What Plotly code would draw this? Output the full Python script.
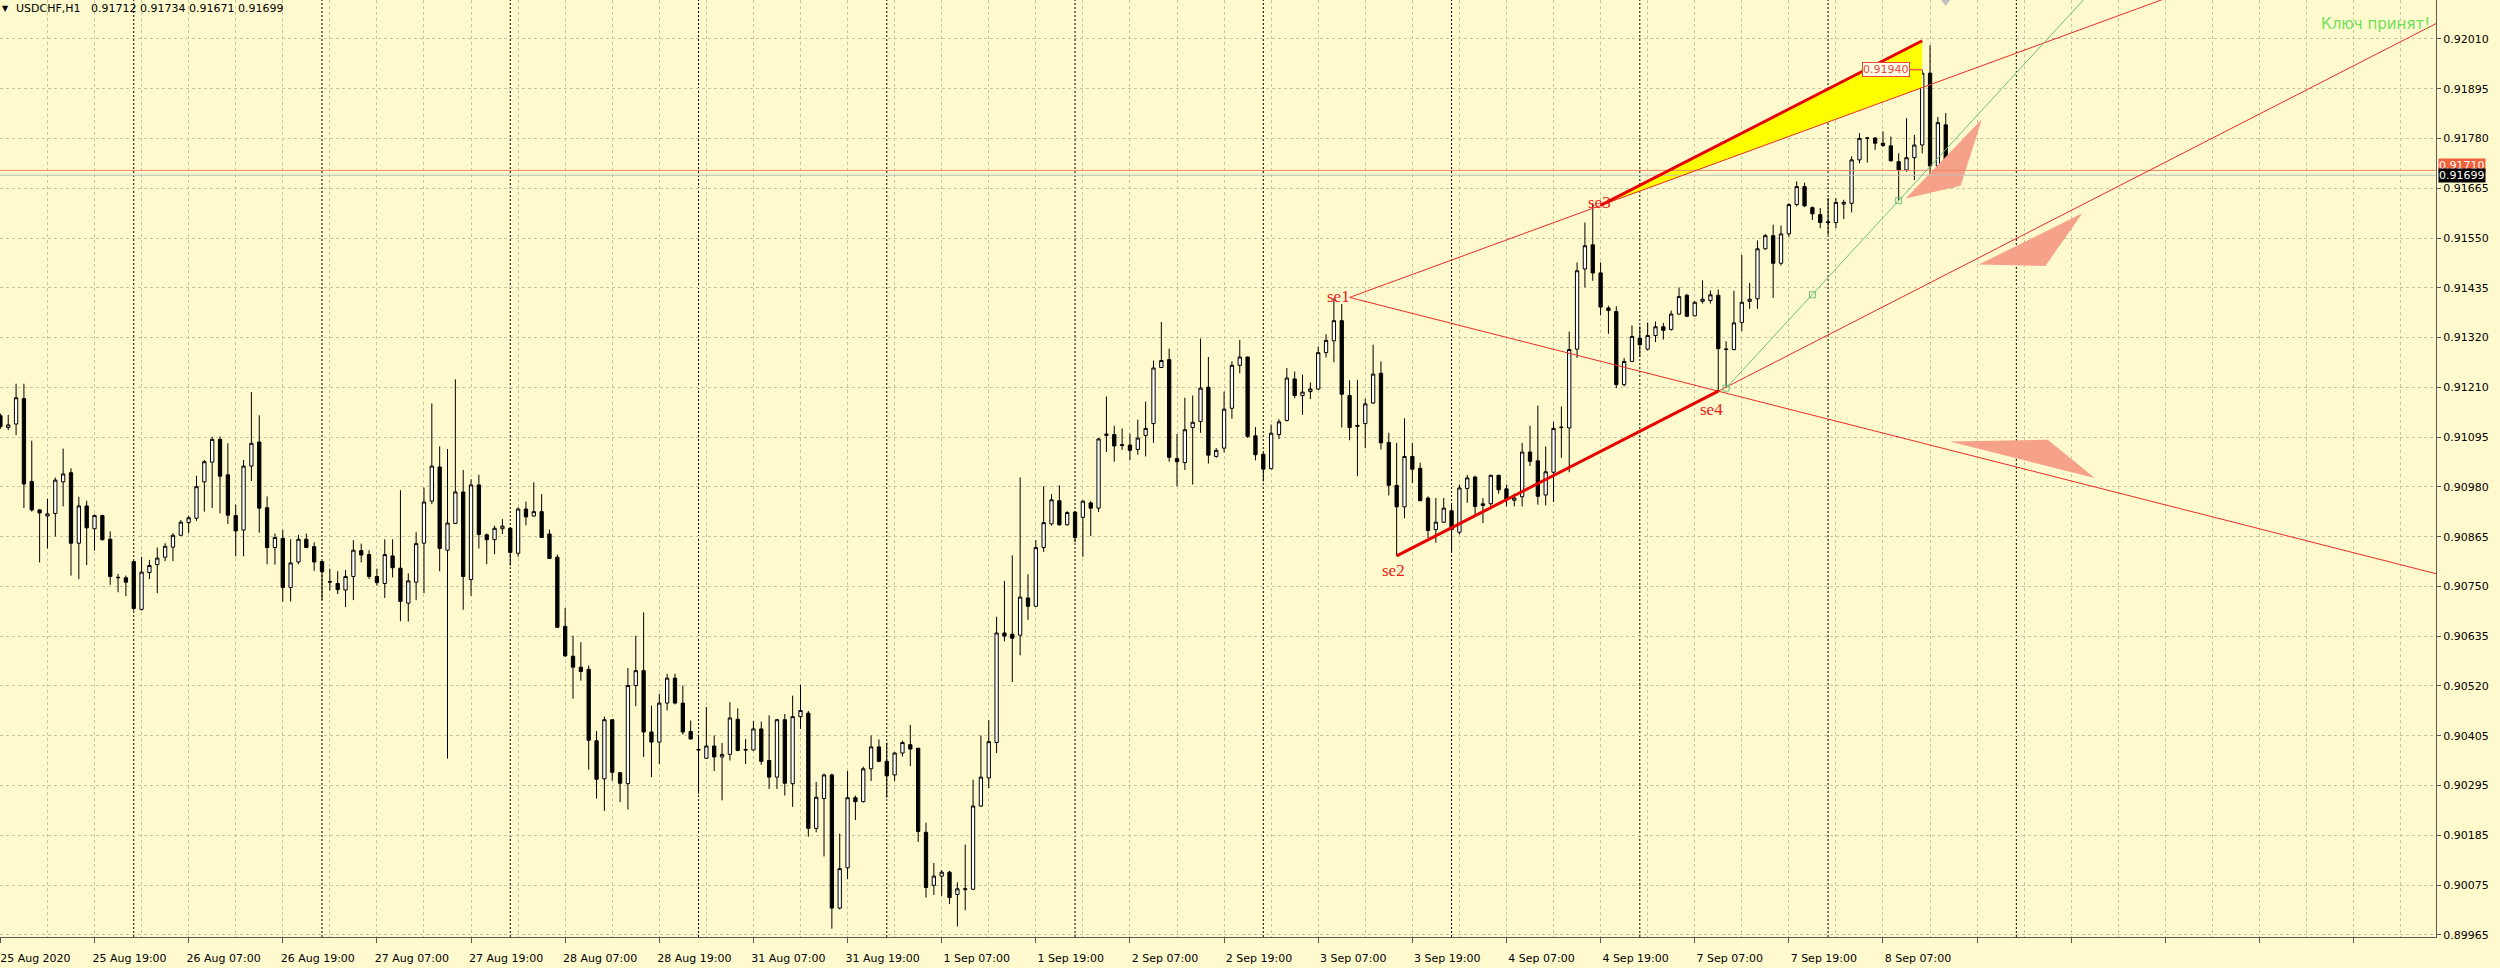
import plotly.graph_objects as go

# ---------------- data (USDCHF H1, bar index 0 = 25 Aug 2020 07:00) ----------------
opens = [
    0.91150, 0.91123, 0.91131, 0.91189, 0.91000, 0.90935, 0.90921, 0.90927, 0.90999, 0.91020,
    0.90859, 0.90944, 0.90892, 0.90922, 0.90868, 0.90780, 0.90780, 0.90817, 0.90708, 0.90792,
    0.90810, 0.90827, 0.90850, 0.90877, 0.90906, 0.90916, 0.90999, 0.91044, 0.91096, 0.91015,
    0.90922, 0.90889, 0.91035, 0.91090, 0.90940, 0.90849, 0.90870, 0.90758, 0.90816, 0.90868,
    0.90851, 0.90817, 0.90770, 0.90767, 0.90752, 0.90783, 0.90842, 0.90833, 0.90783, 0.90767,
    0.90830, 0.90802, 0.90722, 0.90770, 0.90859, 0.90955, 0.91033, 0.90843, 0.90904, 0.90976,
    0.90776, 0.90992, 0.90878, 0.90867, 0.90892, 0.90893, 0.90836, 0.90937, 0.90921, 0.90931,
    0.90880, 0.90827, 0.90669, 0.90601, 0.90576, 0.90571, 0.90408, 0.90321, 0.90456, 0.90335,
    0.90310, 0.90534, 0.90568, 0.90428, 0.90405, 0.90494, 0.90551, 0.90494, 0.90429, 0.90388,
    0.90368, 0.90396, 0.90371, 0.90377, 0.90457, 0.90388, 0.90387, 0.90435, 0.90363, 0.90325,
    0.90456, 0.90310, 0.90463, 0.90471, 0.90208, 0.90276, 0.90330, 0.90026, 0.90118, 0.90278,
    0.90269, 0.90344, 0.90394, 0.90361, 0.90330, 0.90380, 0.90399, 0.90391, 0.90199, 0.90078,
    0.90099, 0.90108, 0.90057, 0.90068, 0.90069, 0.90259, 0.90323, 0.90404, 0.90654, 0.90651,
    0.90649, 0.90734, 0.90715, 0.90849, 0.90903, 0.90956, 0.90901, 0.90930, 0.90918, 0.90951,
    0.90939, 0.91105, 0.91107, 0.91084, 0.91083, 0.91073, 0.91105, 0.91132, 0.91260, 0.91278,
    0.91052, 0.91043, 0.91123, 0.91137, 0.91215, 0.91057, 0.91076, 0.91167, 0.91265, 0.91284,
    0.91104, 0.91062, 0.91029, 0.91107, 0.91139, 0.91234, 0.91196, 0.91205, 0.91211, 0.91294,
    0.91321, 0.91367, 0.91196, 0.91128, 0.91132, 0.91179, 0.91247, 0.91089, 0.90991, 0.90942,
    0.91057, 0.91030, 0.90962, 0.90890, 0.90907, 0.90933, 0.90884, 0.90984, 0.91010, 0.90945,
    0.90949, 0.91014, 0.90983, 0.90957, 0.90965, 0.91067, 0.91047, 0.90969, 0.91021, 0.91124,
    0.91122, 0.91302, 0.91485, 0.91540, 0.91476, 0.91396, 0.91388, 0.91221, 0.91274, 0.91327,
    0.91302, 0.91333, 0.91353, 0.91347, 0.91382, 0.91425, 0.91378, 0.91411, 0.91413, 0.91425,
    0.91301, 0.91301, 0.91363, 0.91411, 0.91417, 0.91531, 0.91561, 0.91498, 0.91565, 0.91632,
    0.91673, 0.91625, 0.91609, 0.91593, 0.91591, 0.91633, 0.91635, 0.91734, 0.91783, 0.91784,
    0.91772, 0.91766, 0.91730, 0.91711, 0.91739, 0.91768, 0.91932, 0.91720, 0.91814, 0.91712,
]
highs = [
    0.91155, 0.91152, 0.91223, 0.91223, 0.91093, 0.90937, 0.90960, 0.91009, 0.91075, 0.91030,
    0.90965, 0.90956, 0.90925, 0.90924, 0.90886, 0.90789, 0.90785, 0.90817, 0.90828, 0.90821,
    0.90849, 0.90859, 0.90882, 0.90912, 0.90922, 0.91013, 0.91049, 0.91102, 0.91103, 0.91087,
    0.90947, 0.91049, 0.91204, 0.91151, 0.90966, 0.90881, 0.90889, 0.90868, 0.90878, 0.90881,
    0.90861, 0.90817, 0.90801, 0.90795, 0.90798, 0.90866, 0.90858, 0.90843, 0.90801, 0.90868,
    0.90868, 0.90980, 0.90790, 0.90884, 0.90986, 0.91178, 0.91080, 0.91074, 0.91233, 0.91026,
    0.91005, 0.91015, 0.90881, 0.90899, 0.90914, 0.90895, 0.90941, 0.90954, 0.90998, 0.90971,
    0.90890, 0.90833, 0.90711, 0.90648, 0.90633, 0.90580, 0.90430, 0.90463, 0.90457, 0.90336,
    0.90574, 0.90648, 0.90701, 0.90488, 0.90515, 0.90561, 0.90561, 0.90534, 0.90454, 0.90422,
    0.90485, 0.90420, 0.90403, 0.90496, 0.90482, 0.90412, 0.90453, 0.90452, 0.90466, 0.90458,
    0.90469, 0.90511, 0.90536, 0.90476, 0.90314, 0.90333, 0.90333, 0.90196, 0.90339, 0.90283,
    0.90349, 0.90420, 0.90411, 0.90404, 0.90382, 0.90408, 0.90444, 0.90391, 0.90221, 0.90129,
    0.90113, 0.90111, 0.90085, 0.90171, 0.90319, 0.90420, 0.90455, 0.90691, 0.90773, 0.90831,
    0.91009, 0.90788, 0.90866, 0.90989, 0.90971, 0.90991, 0.90932, 0.90932, 0.90957, 0.90955,
    0.91099, 0.91194, 0.91127, 0.91121, 0.91109, 0.91141, 0.91182, 0.91276, 0.91364, 0.91303,
    0.91108, 0.91191, 0.91196, 0.91326, 0.91284, 0.91076, 0.91205, 0.91274, 0.91323, 0.91285,
    0.91124, 0.91065, 0.91130, 0.91142, 0.91259, 0.91251, 0.91244, 0.91226, 0.91308, 0.91336,
    0.91418, 0.91405, 0.91231, 0.91232, 0.91189, 0.91312, 0.91274, 0.91111, 0.91088, 0.91144,
    0.91088, 0.91043, 0.90966, 0.90962, 0.90962, 0.90951, 0.90993, 0.91015, 0.91013, 0.90962,
    0.91015, 0.91015, 0.90993, 0.90972, 0.91088, 0.91127, 0.91173, 0.91080, 0.91136, 0.91171,
    0.91342, 0.91500, 0.91591, 0.91635, 0.91500, 0.91401, 0.91400, 0.91282, 0.91356, 0.91354,
    0.91363, 0.91365, 0.91362, 0.91390, 0.91443, 0.91428, 0.91411, 0.91459, 0.91436, 0.91438,
    0.91320, 0.91435, 0.91517, 0.91453, 0.91550, 0.91565, 0.91586, 0.91584, 0.91635, 0.91685,
    0.91682, 0.91628, 0.91624, 0.91647, 0.91647, 0.91643, 0.91742, 0.91795, 0.91786, 0.91786,
    0.91799, 0.91787, 0.91749, 0.91829, 0.91791, 0.91940, 0.91996, 0.91832, 0.91841, 0.91734,
]
lows = [
    0.91120, 0.91117, 0.91106, 0.90939, 0.90931, 0.90815, 0.90847, 0.90874, 0.90943, 0.90785,
    0.90777, 0.90809, 0.90842, 0.90865, 0.90764, 0.90747, 0.90738, 0.90705, 0.90705, 0.90777,
    0.90745, 0.90818, 0.90818, 0.90876, 0.90882, 0.90910, 0.90931, 0.90939, 0.90927, 0.90903,
    0.90829, 0.90829, 0.91001, 0.90883, 0.90811, 0.90810, 0.90726, 0.90726, 0.90811, 0.90848,
    0.90796, 0.90729, 0.90751, 0.90743, 0.90713, 0.90729, 0.90815, 0.90777, 0.90762, 0.90734,
    0.90781, 0.90681, 0.90680, 0.90729, 0.90745, 0.90948, 0.90795, 0.90367, 0.90903, 0.90707,
    0.90739, 0.90847, 0.90811, 0.90834, 0.90880, 0.90808, 0.90828, 0.90900, 0.90920, 0.90871,
    0.90823, 0.90665, 0.90599, 0.90504, 0.90545, 0.90342, 0.90276, 0.90248, 0.90317, 0.90268,
    0.90251, 0.90487, 0.90371, 0.90325, 0.90355, 0.90477, 0.90491, 0.90422, 0.90411, 0.90287,
    0.90367, 0.90339, 0.90272, 0.90363, 0.90384, 0.90355, 0.90386, 0.90353, 0.90298, 0.90298,
    0.90283, 0.90257, 0.90435, 0.90189, 0.90199, 0.90144, 0.89979, 0.90023, 0.90092, 0.90227,
    0.90267, 0.90316, 0.90359, 0.90278, 0.90316, 0.90372, 0.90350, 0.90177, 0.90050, 0.90056,
    0.90054, 0.90035, 0.89984, 0.90021, 0.90067, 0.90257, 0.90300, 0.90380, 0.90635, 0.90542,
    0.90603, 0.90684, 0.90714, 0.90839, 0.90899, 0.90899, 0.90899, 0.90861, 0.90828, 0.90875,
    0.90930, 0.91067, 0.91045, 0.91072, 0.91048, 0.91061, 0.91057, 0.91088, 0.91259, 0.91045,
    0.90989, 0.91026, 0.90993, 0.91111, 0.91041, 0.91054, 0.91066, 0.91143, 0.91247, 0.91099,
    0.91048, 0.91000, 0.91028, 0.91097, 0.91137, 0.91190, 0.91152, 0.91188, 0.91209, 0.91283,
    0.91272, 0.91123, 0.91094, 0.91012, 0.91076, 0.91177, 0.91073, 0.90968, 0.90830, 0.90916,
    0.90996, 0.90955, 0.90871, 0.90860, 0.90905, 0.90841, 0.90879, 0.90951, 0.90922, 0.90905,
    0.90936, 0.90972, 0.90943, 0.90943, 0.90943, 0.91035, 0.90947, 0.90945, 0.90953, 0.91054,
    0.91021, 0.91282, 0.91443, 0.91458, 0.91379, 0.91337, 0.91213, 0.91217, 0.91273, 0.91284,
    0.91299, 0.91318, 0.91324, 0.91344, 0.91381, 0.91375, 0.91377, 0.91406, 0.91406, 0.91206,
    0.91213, 0.91299, 0.91343, 0.91394, 0.91394, 0.91529, 0.91419, 0.91493, 0.91558, 0.91628,
    0.91626, 0.91597, 0.91578, 0.91563, 0.91578, 0.91599, 0.91614, 0.91726, 0.91728, 0.91757,
    0.91764, 0.91730, 0.91641, 0.91707, 0.91688, 0.91749, 0.91696, 0.91673, 0.91667, 0.91671,
]
closes = [
    0.91125, 0.91129, 0.91191, 0.90994, 0.90935, 0.90928, 0.90926, 0.91003, 0.91017, 0.90859,
    0.90944, 0.90894, 0.90922, 0.90867, 0.90783, 0.90781, 0.90770, 0.90710, 0.90793, 0.90808,
    0.90825, 0.90852, 0.90877, 0.90907, 0.90917, 0.90988, 0.91045, 0.91096, 0.91012, 0.90923,
    0.90887, 0.91035, 0.91087, 0.90939, 0.90849, 0.90872, 0.90758, 0.90814, 0.90868, 0.90849,
    0.90816, 0.90794, 0.90771, 0.90753, 0.90783, 0.90843, 0.90832, 0.90783, 0.90769, 0.90833,
    0.90803, 0.90726, 0.90773, 0.90858, 0.90953, 0.91035, 0.90847, 0.90905, 0.90976, 0.90783,
    0.90992, 0.90879, 0.90867, 0.90893, 0.90898, 0.90838, 0.90937, 0.90919, 0.90931, 0.90872,
    0.90824, 0.90667, 0.90602, 0.90576, 0.90566, 0.90409, 0.90320, 0.90456, 0.90336, 0.90311,
    0.90534, 0.90568, 0.90428, 0.90405, 0.90494, 0.90551, 0.90494, 0.90428, 0.90412, 0.90387,
    0.90396, 0.90371, 0.90377, 0.90460, 0.90386, 0.90387, 0.90435, 0.90361, 0.90325, 0.90456,
    0.90311, 0.90463, 0.90477, 0.90208, 0.90279, 0.90330, 0.90026, 0.90116, 0.90278, 0.90269,
    0.90344, 0.90394, 0.90361, 0.90328, 0.90380, 0.90404, 0.90389, 0.90201, 0.90073, 0.90099,
    0.90108, 0.90050, 0.90070, 0.90070, 0.90259, 0.90325, 0.90406, 0.90654, 0.90647, 0.90642,
    0.90736, 0.90715, 0.90849, 0.90906, 0.90958, 0.90901, 0.90929, 0.90872, 0.90955, 0.90939,
    0.91097, 0.91108, 0.91081, 0.91082, 0.91071, 0.91099, 0.91121, 0.91259, 0.91276, 0.91055,
    0.91045, 0.91118, 0.91135, 0.91213, 0.91060, 0.91071, 0.91165, 0.91265, 0.91284, 0.91103,
    0.91061, 0.91028, 0.91110, 0.91136, 0.91236, 0.91196, 0.91204, 0.91211, 0.91294, 0.91322,
    0.91367, 0.91199, 0.91123, 0.91126, 0.91177, 0.91245, 0.91088, 0.90991, 0.90942, 0.91057,
    0.91028, 0.90956, 0.90888, 0.90907, 0.90939, 0.90890, 0.90985, 0.91008, 0.90943, 0.90949,
    0.91014, 0.90981, 0.90960, 0.90962, 0.91067, 0.91046, 0.90966, 0.91022, 0.91121, 0.91123,
    0.91301, 0.91481, 0.91538, 0.91476, 0.91398, 0.91390, 0.91221, 0.91274, 0.91331, 0.91312,
    0.91333, 0.91353, 0.91345, 0.91382, 0.91422, 0.91377, 0.91409, 0.91416, 0.91426, 0.91303,
    0.91302, 0.91362, 0.91409, 0.91416, 0.91531, 0.91561, 0.91498, 0.91565, 0.91632, 0.91673,
    0.91629, 0.91611, 0.91591, 0.91591, 0.91637, 0.91637, 0.91734, 0.91783, 0.91784, 0.91772,
    0.91767, 0.91732, 0.91711, 0.91739, 0.91768, 0.91932, 0.91720, 0.91819, 0.91712, 0.91699,
]
bars = list(range(len(opens)))

x_label_bars = list(range(0, 241, 12))
x_labels = ["25 Aug 2020", "25 Aug 19:00", "26 Aug 07:00", "26 Aug 19:00", "27 Aug 07:00",
            "27 Aug 19:00", "28 Aug 07:00", "28 Aug 19:00", "31 Aug 07:00", "31 Aug 19:00",
            "1 Sep 07:00", "1 Sep 19:00", "2 Sep 07:00", "2 Sep 19:00", "3 Sep 07:00",
            "3 Sep 19:00", "4 Sep 07:00", "4 Sep 19:00", "7 Sep 07:00", "7 Sep 19:00",
            "8 Sep 07:00"]
future_grid_bars = list(range(252, 310, 12))

y_labels = ["0.92010", "0.91895", "0.91780", "0.91665", "0.91550", "0.91435", "0.91320",
            "0.91210", "0.91095", "0.90980", "0.90865", "0.90750", "0.90635", "0.90520",
            "0.90405", "0.90295", "0.90185", "0.90075", "0.89965"]

separator_bars = list(range(17, 258, 24))   # day starts (00:00)

# analysis objects (bar index, price)
se1 = (172, 0.91420)
se2 = (178, 0.90830)
se3 = (204, 0.91630)
se4 = (219, 0.91206)
se_text = {"se1": (170.6, 0.91422), "se2": (177.6, 0.90796),
           "se3": (203.9, 0.91636), "se4": (218.2, 0.91164)}
wedge_end_bar = 245
green_bars = [220, 231, 242]
green_prices = [0.91213, 0.91426, 0.91641]
level_price = 0.91940
level_box_bar = 240.4
ask_price = 0.91710
bid_price = 0.91699
tri1_x, tri1_y = [242.9, 252.6, 249.9], [0.91646, 0.91827, 0.91675]
tri2_x, tri2_y = [252.2, 265.4, 260.7], [0.91495, 0.91612, 0.91492]
tri3_x, tri3_y = [248.5, 261.0, 267.0], [0.91091, 0.91095, 0.91008]
gray_mark = (248.0, 0.92097)

X_MIN, X_MAX = -0.05, 310.5
Y_MIN, Y_MAX = 0.89960, 0.92099
FAR = 330

BG = "#FFFACD"
GRID = "#C9C3A4"
RED = "#EE2A2A"
SALMON = "#F6A189"
FONT = "DejaVu Sans"


def on_line(p, q, x):
    return p[1] + (q[1] - p[1]) * (x - p[0]) / (q[0] - p[0])


fig = go.Figure()

# filled triangles (behind candles)
for tx, ty in [(tri1_x, tri1_y), (tri2_x, tri2_y), (tri3_x, tri3_y)]:
    fig.add_trace(go.Scatter(x=tx + [tx[0]], y=ty + [ty[0]], mode="lines", fill="toself",
                             fillcolor=SALMON, line=dict(width=0, color=SALMON)))

# yellow wedge between channel line and se1-se3 line
slope_c = (se4[1] - se2[1]) / (se4[0] - se2[0])
chan_end = se3[1] + slope_c * (wedge_end_bar - se3[0])
lineA_end = on_line(se1, se3, wedge_end_bar)
fig.add_trace(go.Scatter(x=[se3[0], wedge_end_bar, wedge_end_bar, se3[0]],
                         y=[se3[1], chan_end, lineA_end, se3[1]], mode="lines",
                         fill="toself", fillcolor="#FFFF00", line=dict(width=0, color="#FFFF00")))

# ask / bid lines
fig.add_trace(go.Scatter(x=[X_MIN, X_MAX], y=[ask_price, ask_price], mode="lines",
                         line=dict(color="#F08666", width=1)))
fig.add_trace(go.Scatter(x=[X_MIN, X_MAX], y=[bid_price, bid_price], mode="lines",
                         line=dict(color="#BDBDB5", width=1)))

# candles
fig.add_trace(go.Candlestick(
    x=bars, open=opens, high=highs, low=lows, close=closes,
    increasing=dict(line=dict(color="#000000", width=1), fillcolor="#FFFFFF"),
    decreasing=dict(line=dict(color="#000000", width=1), fillcolor="#000000"),
    whiskerwidth=0, hoverinfo="skip"))

# trend lines
fig.add_trace(go.Scatter(x=[se1[0], FAR], y=[se1[1], on_line(se1, se3, FAR)], mode="lines",
                         line=dict(color=RED, width=1)))
fig.add_trace(go.Scatter(x=[se1[0], FAR], y=[se1[1], on_line(se1, se4, FAR)], mode="lines",
                         line=dict(color=RED, width=1)))
fig.add_trace(go.Scatter(x=[se4[0], FAR], y=[se4[1], on_line(se2, se4, FAR)], mode="lines",
                         line=dict(color=RED, width=1)))
fig.add_trace(go.Scatter(x=[se2[0], se4[0]], y=[se2[1], se4[1]], mode="lines",
                         line=dict(color="#E80000", width=3)))
fig.add_trace(go.Scatter(x=[se3[0], wedge_end_bar], y=[se3[1], chan_end], mode="lines",
                         line=dict(color="#E80000", width=3)))

# green line with anchor squares
g_p, g_q = (green_bars[0], green_prices[0]), (green_bars[-1], green_prices[-1])
fig.add_trace(go.Scatter(x=[green_bars[0], FAR], y=[green_prices[0], on_line(g_p, g_q, FAR)],
                         mode="lines", line=dict(color="#6CC07C", width=1)))
fig.add_trace(go.Scatter(x=green_bars, y=green_prices, mode="markers",
                         marker=dict(symbol="square-open", size=6, color="#6CC07C",
                                     line=dict(width=1))))

# level label connector
fig.add_trace(go.Scatter(x=[level_box_bar + 3.0, wedge_end_bar], y=[level_price, level_price],
                         mode="lines", line=dict(color="#F06040", width=1.5)))

# small gray marker at top
fig.add_trace(go.Scatter(x=[gray_mark[0]], y=[gray_mark[1]], mode="markers",
                         marker=dict(symbol="triangle-down", size=10, color="#C0C0C0")))

shapes = [dict(type="line", xref="x", yref="paper", x0=b, x1=b, y0=0, y1=1, layer="below",
               line=dict(color="#000000", width=1, dash="2px,2px")) for b in separator_bars]

y_top = float(y_labels[0])
y_bot = float(y_labels[-1])
y_step = (y_top - y_bot) / (len(y_labels) - 1)
y_tickvals = [y_top - k * y_step for k in range(len(y_labels))]

annotations = [
    dict(xref="paper", yref="paper", x=0, y=1, xshift=5, yshift=-8, xanchor="center",
         yanchor="middle", text="▼", showarrow=False, font=dict(family=FONT, size=8, color="#000")),
    dict(xref="paper", yref="paper", x=0, y=1, xshift=14, yshift=-8, xanchor="left",
         yanchor="middle", showarrow=False,
         text="USDCHF,H1\u00a0\u00a0\u00a00.91712\u00a00.91734\u00a00.91671\u00a00.91699",
         font=dict(family=FONT, size=11, color="#000000")),
    dict(xref="paper", yref="paper", x=1, y=1, xshift=-4, yshift=-24, xanchor="right",
         yanchor="middle", showarrow=False, text="Ключ принят!",
         font=dict(family=FONT, size=15, color="#6EE05A")),
    dict(xref="x", yref="y", x=level_box_bar, y=level_price, showarrow=False, text="0.91940",
         font=dict(family=FONT, size=11, color="#E8483C"), bgcolor="#FFFDE8",
         bordercolor="#E8483C", borderwidth=1, borderpad=0),
    dict(xref="paper", yref="y", x=1, y=ask_price, xanchor="left", yanchor="middle",
         xshift=2, yshift=5, showarrow=False, text="0.91710",
         font=dict(family=FONT, size=11, color="#FFFFFF"), bgcolor="#F2603A", borderpad=0),
    dict(xref="paper", yref="y", x=1, y=bid_price, xanchor="left", yanchor="middle",
         xshift=2, showarrow=False, text="0.91699",
         font=dict(family=FONT, size=11, color="#FFFFFF"), bgcolor="#000000", borderpad=0),
]
for name, (bx, py) in se_text.items():
    annotations.append(dict(xref="x", yref="y", x=bx, y=py, text=name, showarrow=False,
                            font=dict(family="Liberation Serif", size=17, color="#F01818")))

fig.update_layout(
    width=2500, height=968,
    margin=dict(l=0, r=64, t=0, b=31),
    paper_bgcolor=BG, plot_bgcolor=BG,
    showlegend=False, hovermode=False,
    boxgap=0.4,
    shapes=shapes, annotations=annotations,
    xaxis=dict(
        range=[X_MIN, X_MAX], rangeslider=dict(visible=False),
        tickmode="array", tickvals=x_label_bars + future_grid_bars,
        ticktext=x_labels + [""] * len(future_grid_bars),
        ticks="outside", ticklen=5, tickcolor="#555555", ticklabelshift=35,
        ticklabelstandoff=6, ticklabeloverflow="allow",
        tickfont=dict(family=FONT, size=11, color="#000000"),
        showgrid=True, gridcolor=GRID, griddash="3px,3px", gridwidth=1,
        minor=dict(tickmode="linear", tick0=6, dtick=12, showgrid=True, gridcolor=GRID,
                   griddash="3px,3px", ticks=""),
        showline=True, linecolor="#5A5A5A", linewidth=1, zeroline=False,
    ),
    yaxis=dict(
        side="right", range=[Y_MIN, Y_MAX],
        tickmode="array", tickvals=y_tickvals, ticktext=y_labels,
        ticks="outside", ticklen=4, tickcolor="#555555",
        tickfont=dict(family=FONT, size=11, color="#000000"),
        showgrid=True, gridcolor=GRID, griddash="3px,3px", gridwidth=1,
        showline=True, linecolor="#5A5A5A", linewidth=1, zeroline=False,
    ),
)

fig.write_html(
    "out.html",
    config={"displayModeBar": False},
    post_script="document.body.style.margin='0';document.body.style.overflow='hidden';",
)
